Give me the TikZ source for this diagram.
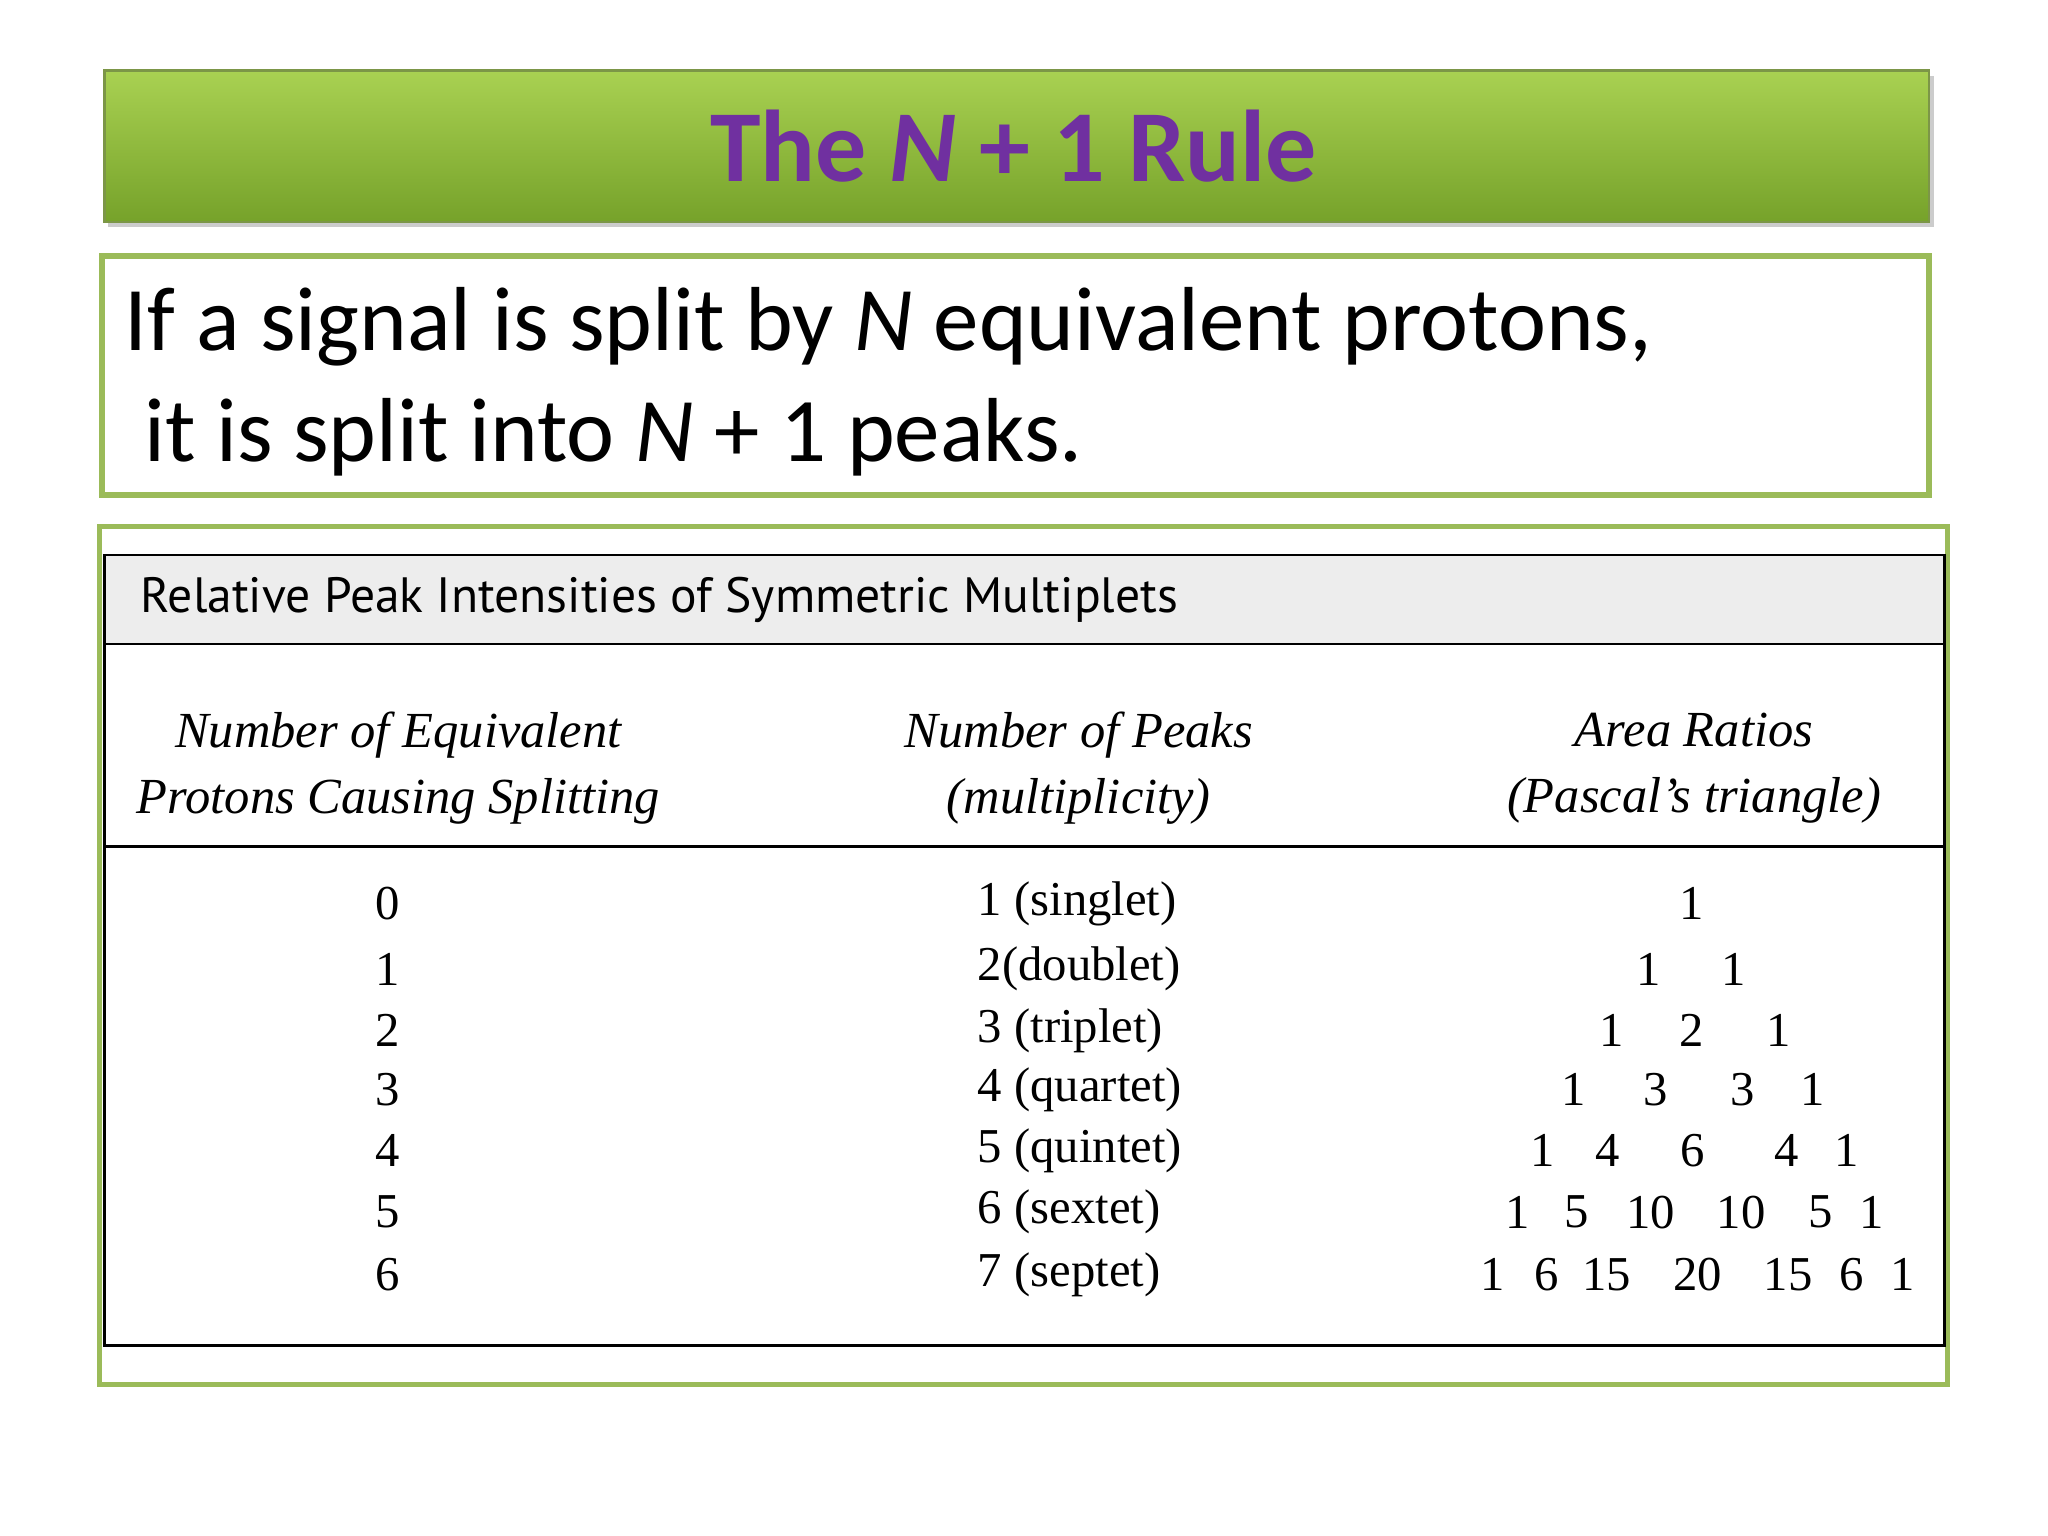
\documentclass[tikz,border=0pt]{standalone}
\usepackage{fontspec}
\setmainfont{Liberation Serif}
\newfontfamily\carlitofont{Carlito}
\newfontfamily\hsans{PT Sans}
\definecolor{gtop}{HTML}{A9D152}
\definecolor{gbot}{HTML}{76A22A}
\definecolor{gline}{HTML}{9BBB59}
\definecolor{purp}{HTML}{7030A0}
\tikzset{
  num/.style={font=\fontsize{10.6}{12}\selectfont, inner sep=0pt},
  colhead/.style={font=\fontsize{11}{14.5}\selectfont\itshape, align=center, inner sep=0pt},
  body/.style={font=\carlitofont\fontsize{19.8}{24}\selectfont, anchor=base west, inner sep=0pt}
}
\begin{document}
\begin{tikzpicture}[x=0.01cm,y=-0.01cm]
\useasboundingbox (0,0) rectangle (1568,1176);
\fill[white] (0,0) rectangle (1568,1176);
% title bar
\fill[gray!40] (83,58) rectangle (1481,174);
\shade[top color=gtop,bottom color=gbot,draw=gline!80!black,line width=0.5pt] (80,54) rectangle (1477,170);
\node[font=\carlitofont\bfseries\fontsize{22.2}{26}\selectfont,text=purp] (title) at (776,112) {The \textit{N} + 1 Rule};
% statement box
\draw[gline,line width=1.2pt] (78,196) rectangle (1477,379);
\node[body] (l1) at (95,268) {If a signal is split by \textit{N} equivalent protons,};
\node[body] (l2) at (110,353) {it is split into \textit{N} + 1 peaks.};
% table box
\draw[gline,line width=1.2pt] (76,403) rectangle (1491,1060);
\fill[gray!14] (80,425) rectangle (1489,493);
\draw[line width=0.6pt] (80,425) rectangle (1489,1030);
\draw[line width=0.6pt] (80,493) -- (1489,493);
\draw[line width=0.6pt] (80,648) -- (1489,648);
\node[font=\hsans\fontsize{10.8}{13}\selectfont,anchor=west,inner sep=0pt] (th) at (107,459) {Relative Peak Intensities of Symmetric Multiplets};
\node[colhead] (h1) at (305,588) {Number of Equivalent\\Protons Causing Splitting};
\node[colhead] (h2) at (826,588) {Number of Peaks\\(multiplicity)};
\node[colhead] (h3) at (1297,588) {Area Ratios\\(Pascal's triangle)};
\foreach \n/\y/\lab in {0/692/1 (singlet),1/742/2(doublet),2/789/3 (triplet),3/834/4 (quartet),4/881/5 (quintet),5/928/6 (sextet),6/976/7 (septet)}{
  \node[num] (n\n) at (297,\y) {\n};
  \node[num,anchor=west] (m\n) at (748,\y) {\lab};
}
\foreach \x/\v [count=\i] in {1295/1}{\node[num] (p0\i) at (\x,692) {\v};}
\foreach \x/\v [count=\i] in {1262/1,1327/1}{\node[num] (p1\i) at (\x,742) {\v};}
\foreach \x/\v [count=\i] in {1234/1,1295/2,1362/1}{\node[num] (p2\i) at (\x,789) {\v};}
\foreach \x/\v [count=\i] in {1205/1,1268/3,1334/3,1388/1}{\node[num] (p3\i) at (\x,834) {\v};}
\foreach \x/\v [count=\i] in {1181/1,1231/4,1296/6,1368/4,1414/1}{\node[num] (p4\i) at (\x,881) {\v};}
\foreach \x/\v [count=\i] in {1162/1,1207/5,1264/10,1333/10,1394/5,1433/1}{\node[num] (p5\i) at (\x,928) {\v};}
\foreach \x/\v [count=\i] in {1143/1,1184/6,1230/15,1300/20,1369/15,1418/6,1457/1}{\node[num] (p6\i) at (\x,976) {\v};}
\end{tikzpicture}
\end{document}
